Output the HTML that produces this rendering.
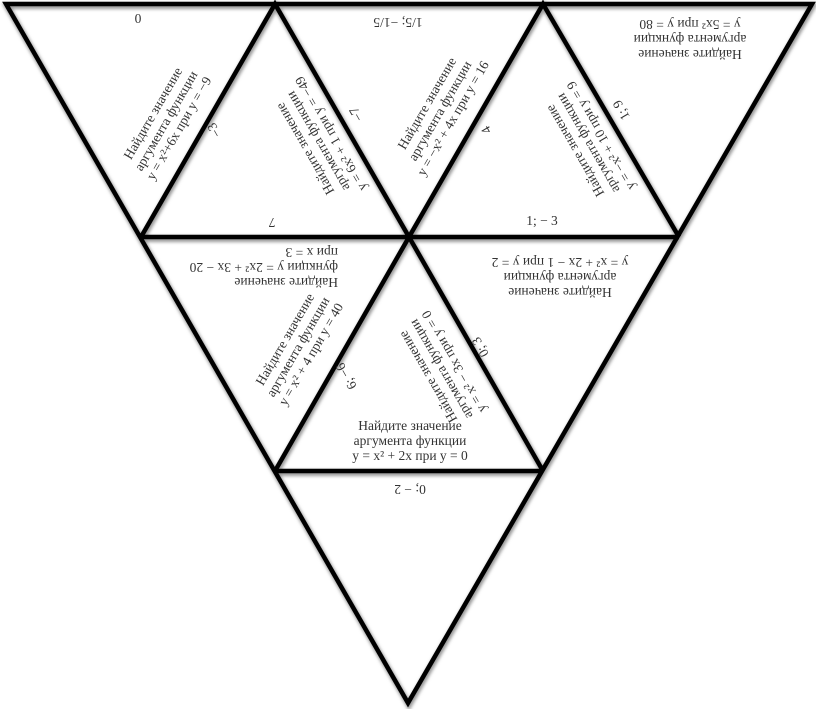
<!DOCTYPE html>
<html><head><meta charset="utf-8"><style>
html,body{margin:0;padding:0;background:#fff;width:816px;height:709px;overflow:hidden}
svg{display:block}
text{font-family:"Liberation Serif",serif;font-size:13.5px;fill:#333}
</style></head><body>
<svg width="816" height="709" viewBox="0 0 816 709">
<defs><filter id="sh" x="-5%" y="-5%" width="110%" height="110%"><feGaussianBlur stdDeviation="1.5"/></filter></defs>
<g stroke="#999" stroke-width="6" fill="none" filter="url(#sh)" transform="translate(1,2)">
<polygon points="6,4 812,4 408,703"/>
<line x1="141" y1="237" x2="679" y2="237"/><line x1="275" y1="471" x2="543" y2="471"/>
<polyline points="141,237 275,4 409,237 543,4 679,237"/><polyline points="275,471 409,237 543,471"/>
</g>
<g stroke="#000" stroke-width="4.5" fill="none" stroke-linejoin="miter">
<polygon points="6,4 812,4 408,703"/>
<line x1="141" y1="237" x2="679" y2="237"/><line x1="275" y1="471" x2="543" y2="471"/>
<polyline points="141,237 275,4 409,237 543,4 679,237"/><polyline points="275,471 409,237 543,471"/>
</g>
<text transform="translate(138,14) rotate(180)" text-anchor="middle">0</text>
<g transform="translate(168,122) rotate(-60)" text-anchor="middle">
<text y="-13">Найдите значение</text><text y="2">аргумента функции</text><text y="17">y = x²+6x при y = −9</text></g>
<text transform="translate(218,128) rotate(-120)" text-anchor="middle">−3</text>
<g transform="translate(320,140) rotate(-120)" text-anchor="middle">
<text y="-13">Найдите значение</text><text y="2">аргумента функции</text><text y="17">y = 6x² + 1 при y = −49</text></g>
<text transform="translate(360,112) rotate(-120)" text-anchor="middle">−7</text>
<text transform="translate(272,218) rotate(180)" text-anchor="middle">7</text>
<text transform="translate(398,18) rotate(180)" text-anchor="middle" font-size="11">1/5; −1/5</text>
<g transform="translate(442,112) rotate(-60)" text-anchor="middle">
<text y="-13">Найдите значение</text><text y="2">аргумента функции</text><text y="17">y = −x² + 4x при y = 16</text></g>
<text transform="translate(490,128) rotate(-120)" text-anchor="middle">4</text>
<g transform="translate(590,142) rotate(-120)" text-anchor="middle">
<text y="-13">Найдите значение</text><text y="2">аргумента функции</text><text y="17">y = −x² + 10 при y = 9</text></g>
<text transform="translate(625,108) rotate(-120)" text-anchor="middle">1; 9</text>
<text x="542" y="225" text-anchor="middle">1; − 3</text>
<g transform="translate(690,37) rotate(180)" text-anchor="middle">
<text y="-13">Найдите значение</text><text y="2">аргумента функции</text><text y="17">y = 5x² при y = 80</text></g>
<g transform="translate(285,265) rotate(180)" text-anchor="start">
<text x="-53" y="-13">Найдите значение</text><text x="-53" y="2">функции y = 2x² + 3x − 20</text><text x="-53" y="17">при x = 3</text></g>
<g transform="translate(300,348) rotate(-60)" text-anchor="middle">
<text y="-13">Найдите значение</text><text y="2">аргумента функции</text><text y="17">y = x² + 4 при y = 40</text></g>
<text transform="translate(350,374) rotate(-120)" text-anchor="middle">6; −6</text>
<g transform="translate(443,368) rotate(-120)" text-anchor="middle">
<text y="-13">Найдите значение</text><text y="2">аргумента функции</text><text y="17">y = x² − 3x при y = 0</text></g>
<text transform="translate(484,345) rotate(-120)" text-anchor="middle">0; 3</text>
<g transform="translate(560,275) rotate(180)" text-anchor="middle">
<text y="-13">Найдите значение</text><text y="2">аргумента функции</text><text y="17">y = x² + 2x − 1 при y = 2</text></g>
<g transform="translate(410,430)" text-anchor="middle">
<text y="0">Найдите значение</text><text y="15">аргумента функции</text><text y="30">y = x² + 2x при y = 0</text></g>
<text transform="translate(410,485) rotate(180)" text-anchor="middle">0; − 2</text>
</svg>
</body></html>
